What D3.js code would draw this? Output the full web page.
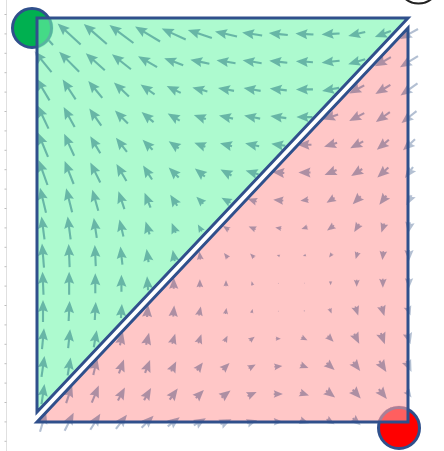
<!DOCTYPE html>
<html><head><meta charset="utf-8">
<script src="https://cdn.jsdelivr.net/npm/d3@7"></script>
<style>html,body{margin:0;padding:0;background:#fff;overflow:hidden}</style>
</head><body>
<svg id="chart" width="444" height="451"></svg>
<script>
// Grid levels of the direction field (columns left→right, rows top→bottom)
const xLevels = [0,1,2,3,4,5,6,7,8,9,10,11,12,13,14];
const yLevels = [14,13,12,11,10,9,8,7,6,5,4,3,2,1,0];

// Horizontal component of the flow at each grid node (row by row, top first)
const U = [
  [-2.0,-2.3,-2.3,-2.4,-2.5,-2.4,-2.4,-2.2,-2.0,-1.9,-1.8,-1.8,-1.7,-1.6,-1.8],
  [-1.7,-2.0,-1.9,-1.9,-1.9,-1.9,-1.9,-1.9,-1.9,-1.8,-1.7,-1.8,-1.7,-1.6,-1.8],
  [-1.3,-1.3,-1.4,-1.5,-1.4,-1.4,-1.5,-1.6,-1.7,-1.7,-1.7,-1.7,-1.5,-1.5,-1.7],
  [-1.1,-1.1,-1.2,-1.3,-1.2,-1.2,-1.2,-1.4,-1.6,-1.6,-1.6,-1.5,-1.5,-1.4,-1.5],
  [-1.0,-1.0,-1.0,-1.1,-1.0,-1.0,-1.1,-1.2,-1.4,-1.4,-1.4,-1.3,-1.3,-1.2,-1.2],
  [-0.9,-0.9,-1.0,-1.0,-0.9,-1.0,-1.0,-1.1,-1.3,-1.2,-1.2,-1.2,-1.1,-1.1,-0.8],
  [-0.6,-0.6,-0.6,-0.6,-0.6,-0.7,-0.7,-0.9,-0.9,-1.0,-0.8,-0.8,-0.8,-0.7,-0.5],
  [-0.3,-0.3,-0.3,-0.4,-0.4,-0.4,-0.4,-0.6,-0.7,-0.6,-0.6,-0.7,-0.5,-0.3,-0.2],
  [-0.2,-0.1,-0.1,-0.2,-0.2,-0.2,-0.1,-0.4,-0.4,-0.3,-0.3,-0.3,-0.2,-0.1, 0.0],
  [-0.1, 0.0, 0.0, 0.0,-0.1, 0.0, 0.0, 0.0,-0.1, 0.0, 0.0, 0.0, 0.0, 0.0, 0.0],
  [ 0.0, 0.1, 0.1, 0.1, 0.1, 0.1, 0.2, 0.1, 0.1, 0.0, 0.1, 0.2, 0.3, 0.3, 0.3],
  [ 0.2, 0.2, 0.3, 0.3, 0.3, 0.3, 0.3, 0.3, 0.5, 0.5, 0.6, 0.6, 0.5, 0.4, 0.3],
  [ 0.3, 0.3, 0.4, 0.5, 0.5, 0.5, 0.6, 0.7, 0.7, 0.8, 0.8, 0.8, 0.7, 0.7, 0.5],
  [ 0.3, 0.6, 0.7, 0.7, 0.7, 0.8, 0.8, 0.9, 0.9, 0.9, 0.9, 0.9, 0.8, 0.8, 0.5],
  [ 0.6, 0.9, 1.0, 1.1, 1.2, 1.2, 1.2, 1.1, 1.0, 0.9, 0.9, 0.8, 0.8, 0.6, 0.0]
];

// Vertical component (positive = upward)
const V = [
  [2.2, 2.1, 2.0, 1.8, 1.5, 1.1, 0.8, 0.5, 0.3, 0.2, 0.1,-0.1,-0.4,-0.6,-1.0],
  [2.1, 2.0, 1.7, 1.5, 1.1, 0.7, 0.4, 0.3, 0.3, 0.2, 0.1,-0.2,-0.5,-0.9,-1.1],
  [2.2, 2.0, 1.7, 1.4, 1.0, 0.7, 0.4, 0.3, 0.3, 0.2, 0.0,-0.3,-0.8,-0.9,-1.2],
  [2.3, 2.0, 1.7, 1.3, 1.0, 0.7, 0.4, 0.3, 0.3, 0.2, 0.0,-0.5,-0.8,-1.0,-1.2],
  [2.4, 2.2, 1.7, 1.4, 1.0, 0.7, 0.4, 0.3, 0.3, 0.2, 0.0,-0.4,-0.7,-1.0,-1.1],
  [2.5, 2.3, 2.0, 1.7, 1.4, 1.0, 0.8, 0.6, 0.4, 0.1, 0.0,-0.5,-0.7,-1.0,-1.1],
  [2.5, 2.4, 2.1, 1.8, 1.5, 1.1, 0.7, 0.5, 0.3, 0.1,-0.1,-0.5,-0.8,-0.9,-1.0],
  [2.3, 2.3, 2.0, 1.7, 1.3, 1.0, 0.7, 0.4, 0.3, 0.1,-0.2,-0.5,-0.8,-0.9,-1.1],
  [2.4, 2.3, 2.1, 1.8, 1.3, 1.1, 0.8, 0.5, 0.4, 0.1,-0.1,-0.4,-0.7,-0.9,-1.1],
  [2.3, 2.3, 2.0, 1.7, 1.4, 1.1, 0.8, 0.6, 0.4, 0.1,-0.1,-0.4,-0.7,-0.9,-1.0],
  [2.2, 2.0, 1.8, 1.4, 1.2, 1.1, 0.9, 0.6, 0.4, 0.1,-0.1,-0.5,-0.9,-1.0,-0.9],
  [2.1, 1.9, 1.7, 1.3, 1.2, 1.0, 0.9, 0.6, 0.4, 0.0,-0.3,-0.6,-1.0,-1.1,-1.1],
  [2.1, 1.8, 1.7, 1.4, 1.3, 1.0, 0.8, 0.7, 0.4, 0.1,-0.3,-0.7,-0.9,-1.1,-1.1],
  [2.0, 1.8, 1.7, 1.3, 1.2, 1.1, 0.8, 0.7, 0.4, 0.0,-0.3,-0.7,-0.9,-1.0,-0.7],
  [2.0, 1.8, 1.6, 1.4, 1.2, 0.9, 0.7, 0.5, 0.3, 0.0,-0.3,-0.5,-0.7,-0.6, 0.0]
];

// Tick positions of the faint rail on the left
const railTicks = [0,1,2,3,4,5,6,7,8,9,10,11,12,13,14,15,16,17,18,19,20,21,22];

const W = 444, H = 451;
const svg = d3.select("#chart");
const box = {left: 37, right: 408, top: 18, bottom: 422, split: 10};
const edge = "#30508c";

const x = d3.scaleLinear().domain([0, 14]).range([43, 409]);
const y = d3.scaleLinear().domain([0, 14]).range([421.8, 34]);
const len = d3.scaleLinear().domain([0, 1]).range([0, 10]);
const rail = d3.scaleLinear().domain([0, 22]).range([14, 440.8]);

const defs = svg.append("defs");
defs.append("filter").attr("id", "soft").attr("x", "-20%").attr("y", "-20%").attr("width", "140%").attr("height", "140%")
  .append("feGaussianBlur").attr("stdDeviation", 0.45);

// the two basins: an opaque base, then a tinted veil laid over the field
const upper = [[box.left, box.top], [box.right, box.top], [box.left, box.bottom - box.split]];
const lower = [[box.left, box.bottom], [box.right, box.bottom], [box.right, box.top + box.split]];
const tri = d3.line().curve(d3.curveLinearClosed);
const basins = [
  {pts: upper, base: "rgb(223,255,237)", veil: "rgb(60,240,140)", glass: "rgb(116,248,174)"},
  {pts: lower, base: "rgb(255,221,221)", veil: "rgb(255,150,150)", glass: "rgb(255,162,162)"}
];
svg.append("g").selectAll("path").data(basins).join("path")
  .attr("d", d => tri(d.pts)).attr("fill", d => d.base);

// direction field
const field = [];
yLevels.forEach((yl, r) => xLevels.forEach((xl, c) => {
  field.push({cx: x(xl), cy: y(yl), dx: len(U[r][c]), dy: -len(V[r][c])});
}));
const shaftW = 2.1, headL = 12, headW = 10, headA = 10.5;
function arrow(L) {
  const s = L < headL ? L / headL : 1;
  const w = shaftW * s / 2, hl = headL * s, hw = headW * s / 2, ha = headA * s;
  const a = -L / 2, b = L / 2;
  return `M${a},${-w}L${b - ha},${-w}L${b - hl},${-hw}L${b},0L${b - hl},${hw}L${b - ha},${w}L${a},${w}Z`;
}
svg.append("g").attr("filter", "url(#soft)")
  .selectAll("path").data(field.filter(d => Math.hypot(d.dx, d.dy) > 0.4)).join("path")
  .attr("d", d => arrow(Math.hypot(d.dx, d.dy)))
  .attr("transform", d => `translate(${d.cx},${d.cy}) rotate(${Math.atan2(d.dy, d.dx) * 180 / Math.PI})`)
  .attr("fill", "rgb(20,60,120)").attr("fill-opacity", 0.5);

svg.append("g").selectAll("path").data(basins).join("path")
  .attr("d", d => tri(d.pts)).attr("fill", d => d.veil).attr("fill-opacity", 0.3);

// arrows outside the frame read paler
svg.append("path")
  .attr("d", `M0,0H${W}V${H}H0Z M${box.left},${box.top}V${box.bottom}H${box.right}V${box.top}Z`)
  .attr("fill", "#fff").attr("fill-opacity", 0.35).attr("fill-rule", "evenodd");

// white channel between the basins
svg.append("line")
  .attr("x1", box.right).attr("y1", box.top + box.split / 2)
  .attr("x2", box.left).attr("y2", box.bottom - box.split / 2)
  .attr("stroke", "#fff").attr("stroke-width", 4.5);

// faint rail
svg.append("line").attr("x1", 6.5).attr("x2", 6.5).attr("y1", 0).attr("y2", H)
  .attr("stroke", "#e0e0e0").attr("stroke-width", 1);
const ax = svg.append("g").attr("transform", "translate(6.5,0)")
  .call(d3.axisLeft(rail).tickValues(railTicks).tickSize(2).tickSizeOuter(0).tickFormat(""));
ax.select(".domain").remove();
ax.selectAll(".tick line").attr("stroke", "#bdbdbd");

// end states
const ends = [
  {cx: 32, cy: 28, r: 19.5, fill: "#00b050"},
  {cx: 399, cy: 428, r: 20.5, fill: "#ff0000"}
];
defs.append("clipPath").attr("id", "endsClip").selectAll("circle").data(ends).join("circle")
  .attr("cx", d => d.cx).attr("cy", d => d.cy).attr("r", d => d.r + 2);
svg.append("g").selectAll("circle").data(ends).join("circle")
  .attr("cx", d => d.cx).attr("cy", d => d.cy).attr("r", d => d.r)
  .attr("fill", d => d.fill).attr("stroke", edge).attr("stroke-width", 3);
svg.append("g").attr("clip-path", "url(#endsClip)").selectAll("path").data(basins).join("path")
  .attr("d", d => tri(d.pts)).attr("fill", d => d.glass).attr("fill-opacity", 0.59);

// basin outlines
svg.append("g").selectAll("path").data(basins).join("path")
  .attr("d", d => tri(d.pts)).attr("fill", "none")
  .attr("stroke", edge).attr("stroke-width", 3).attr("stroke-linejoin", "miter").attr("stroke-miterlimit", 10);

// third state, mostly off the top edge
svg.append("circle").attr("cx", 418.5).attr("cy", -17.5).attr("r", 21)
  .attr("fill", "#fff").attr("stroke", "#222").attr("stroke-width", 2);
</script>
</body></html>
